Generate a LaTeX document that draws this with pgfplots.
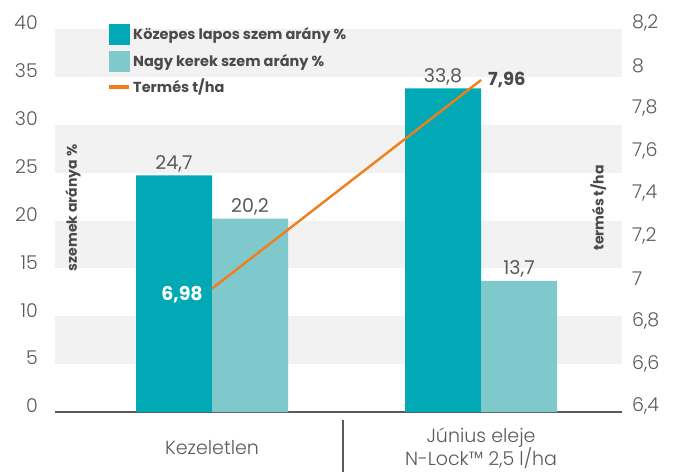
\documentclass[border=0pt]{standalone}
\usepackage{fontspec}
\setmainfont{Poppins}
\IfFontExistsTF{Poppins Light}{\newfontfamily\lightfont{Poppins Light}}{\newfontfamily\lightfont{Poppins}}
\usepackage{pgfplots}
\pgfplotsset{compat=1.18}
\definecolor{tealdark}{HTML}{00A9B5}
\definecolor{teallight}{HTML}{7FC9CD}
\definecolor{orng}{HTML}{F07E1A}
\definecolor{band}{HTML}{F2F2F2}
\definecolor{txt}{HTML}{5A5A5A}
\definecolor{txtd}{HTML}{4A4A4A}
\begin{document}
\begin{tikzpicture}
\begin{axis}[
  scale only axis, width=567pt, height=383pt,
  xmin=-0.5836, xmax=1.524, ymin=0, ymax=40,
  axis x line*=bottom, axis y line*=left,
  x axis line style={draw=txt, line width=2.2pt, -},
  y axis line style={draw=none},
  major tick length=0pt,
  xtick={0,1},
  xticklabels={Kezeletlen,{Június eleje\\N-Lock™ 2,5 l/ha}},
  xticklabel style={align=center, anchor=center, inner sep=0pt, yshift=-36pt, font=\lightfont\fontsize{19}{23}\selectfont, text=txt},
  ytick={0,5,...,40},
  yticklabel style={anchor=east, inner sep=0pt, xshift=-17pt, yshift=6pt, font=\lightfont\fontsize{19}{23}\selectfont, text=txt},
  /pgf/number format/assume math mode=true,
  /pgf/number format/use comma, /pgf/number format/fixed, /pgf/number format/precision=2,
  clip=false,
  legend style={at={(0.0917,1.013)}, anchor=north west, draw=none, fill=none, inner sep=0pt,
    font=\bfseries\fontsize{14.5}{16}\selectfont, text=txtd, row sep=6pt},
  legend cell align=left,
]
\addlegendimage{legend image code/.code={\fill[tealdark] (0pt,-10pt) rectangle (20pt,10pt);}}
\addlegendentry{Közepes lapos szem arány \%}
\addlegendimage{legend image code/.code={\fill[teallight] (0pt,-10pt) rectangle (20pt,10pt);}}
\addlegendentry{Nagy kerek szem arány \%}
\addlegendimage{legend image code/.code={\draw[orng, line width=4pt] (0pt,0pt) -- (20pt,0pt);}}
\addlegendentry{Termés t/ha}
\fill[band] (axis cs:-0.5836,5) rectangle (axis cs:1.524,10);
\fill[band] (axis cs:-0.5836,15) rectangle (axis cs:1.524,20);
\fill[band] (axis cs:-0.5836,25) rectangle (axis cs:1.524,30);
\fill[band] (axis cs:-0.5836,35) rectangle (axis cs:1.524,40);
\addplot[ybar, bar width=0.2825, bar shift=0pt, fill=tealdark, draw=none, forget plot,
  nodes near coords, every node near coord/.append style={font=\fontsize{19}{23}\selectfont, text=txt}]
  coordinates {(-0.14125,24.7) (0.85875,33.8)};
\addplot[ybar, bar width=0.2825, bar shift=0pt, fill=teallight, draw=none, forget plot,
  nodes near coords, every node near coord/.append style={font=\fontsize{19}{23}\selectfont, text=txt}]
  coordinates {(0.14125,20.2) (1.14125,13.7)};
\node[rotate=90, font=\bfseries\fontsize{14}{16}\selectfont, text=txtd] at (rel axis cs:0.0317,0.533) {szemek aránya \%};
\node[rotate=90, font=\bfseries\fontsize{14}{16}\selectfont, text=txtd] at (rel axis cs:0.958,0.533) {termés t/ha};
\draw[txt, line width=1.2pt] ([yshift=-8pt]axis cs:0.487,0) -- ([yshift=-70pt]axis cs:0.487,0);
\end{axis}
\begin{axis}[
  scale only axis, width=567pt, height=383pt,
  xmin=-0.5836, xmax=1.524, ymin=6.4, ymax=8.2,
  axis x line=none, axis y line*=right,
  y axis line style={draw=none},
  major tick length=0pt,
  ytick={6.4,6.6,6.8,7,7.2,7.4,7.6,7.8,8,8.2},
  yticklabel style={anchor=west, inner sep=0pt, xshift=10pt, yshift=6pt, font=\lightfont\fontsize{19}{23}\selectfont, text=txt},
  /pgf/number format/assume math mode=true,
  /pgf/number format/use comma, /pgf/number format/fixed, /pgf/number format/precision=2,
  clip=false,
]
\addplot[orng, line width=2.4pt] coordinates {(0,6.98) (1,7.96)};
\node[anchor=east, inner sep=0pt, xshift=-9pt, yshift=-6pt, text=white, font=\bfseries\fontsize{19}{23}\selectfont] at (axis cs:0,6.98) {6,98};
\node[anchor=west, inner sep=0pt, xshift=7pt, text=txtd, font=\bfseries\fontsize{18}{22}\selectfont] at (axis cs:1,7.96) {7,96};
\end{axis}
\pgfresetboundingbox
\path[use as bounding box] (-55pt,-59pt) rectangle (619pt,412pt);
\end{tikzpicture}
\end{document}
